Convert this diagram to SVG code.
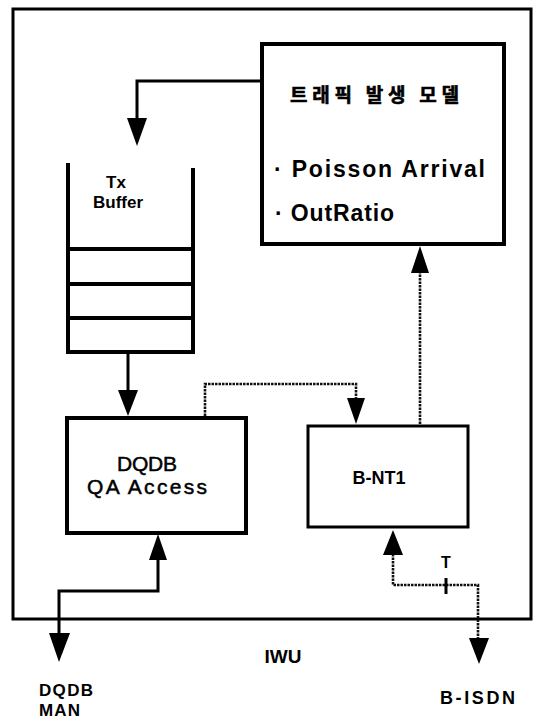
<svg xmlns="http://www.w3.org/2000/svg" width="534" height="720" viewBox="0 0 534 720">
<style>
.box{fill:none;stroke:#000;stroke-width:4}
.thin{fill:none;stroke:#000;stroke-width:3}
.solid{fill:none;stroke:#000;stroke-width:3}
.dot{fill:none;stroke:#111;stroke-width:2.6;stroke-dasharray:2.5 1}
.head{fill:#000;stroke:none}
text{font-family:"Liberation Sans",Arial,sans-serif;fill:#000}
.b{font-weight:bold}
.kr{font-family:"Noto Sans CJK KR","Noto Sans CJK SC",sans-serif;font-weight:bold}
</style>
<rect width="534" height="720" fill="#fff"/>
<g id="iwu">
<rect x="13" y="9" width="518" height="610" class="thin"/>
<text x="283" y="663" font-size="19" class="b" text-anchor="middle">IWU</text>
</g>
<g id="traffic-model">
<rect x="262" y="44" width="242" height="200" class="box"/>
<text x="290" y="102" font-size="19" class="kr" textLength="169" lengthAdjust="spacing" stroke="#000" stroke-width="0.6">트래픽 발생 모델</text>
<text x="274" y="177" font-size="23" class="b" textLength="211" lengthAdjust="spacing">· Poisson Arrival</text>
<text x="275" y="221" font-size="23" class="b" textLength="119" lengthAdjust="spacing">· OutRatio</text>
</g>
<g id="tx-buffer">
<path d="M68,163 V352 H193 V168 M68,249 H193 M68,284 H193 M68,318 H193" class="box"/>
<text x="116" y="188" font-size="17" class="b" text-anchor="middle">Tx</text>
<text x="118" y="208" font-size="17" class="b" text-anchor="middle">Buffer</text>
</g>
<g id="dqdb-qa">
<rect x="67" y="418" width="179" height="115" class="box"/>
<text x="147" y="471" font-size="21" text-anchor="middle" textLength="60" lengthAdjust="spacing" stroke="#000" stroke-width="0.5">DQDB</text>
<text x="147" y="494" font-size="21" text-anchor="middle" textLength="120" lengthAdjust="spacing" stroke="#000" stroke-width="0.5">QA Access</text>
</g>
<g id="bnt1">
<rect x="308" y="426" width="160" height="101" class="thin"/>
<text x="379" y="484" font-size="18" class="b" text-anchor="middle">B-NT1</text>
</g>
<g id="dqdb-man">
<text x="39" y="696" font-size="17" class="b" textLength="54" lengthAdjust="spacing">DQDB</text>
<text x="39" y="716" font-size="17" class="b" textLength="41" lengthAdjust="spacing">MAN</text>
</g>
<g id="b-isdn">
<text x="440" y="704" font-size="18" class="b" textLength="75" lengthAdjust="spacing">B-ISDN</text>
</g>
<g id="connectors">
<polyline points="262,81 137,81 137,118" class="solid"/>
<polygon points="127,118 147,118 137,146" class="head"/>
<line x1="128" y1="352" x2="128" y2="391" class="solid"/>
<polygon points="118,390 138,390 128,416" class="head"/>
<polyline points="205,416 205,384 356,384 356,399" class="dot"/>
<polygon points="347,398 365,398 356,424" class="head"/>
<line x1="420" y1="424" x2="420" y2="272" class="dot"/>
<polygon points="411,273 429,273 420,246" class="head"/>
<polyline points="158,559 158,591 59,591 59,634" class="solid"/>
<polygon points="149,560 167,560 158,534" class="head"/>
<polygon points="49,633 70,633 59,662" class="head"/>
<polyline points="393,554 393,585 478,585 478,639" class="dot"/>
<polygon points="383,555 403,555 393,530" class="head"/>
<polygon points="469,638 489,638 479,664" class="head"/>
<line x1="446" y1="578" x2="446" y2="594" class="solid"/>
<text x="446" y="568" font-size="16" class="b" text-anchor="middle">T</text>
</g>
</svg>
